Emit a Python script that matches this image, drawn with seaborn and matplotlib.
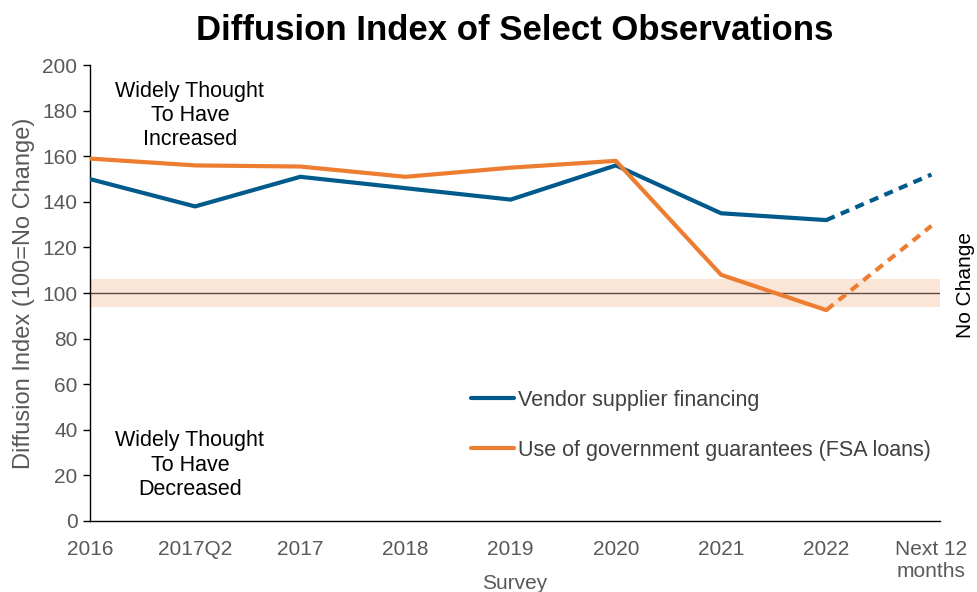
import numpy as np
import pandas as pd
import matplotlib
matplotlib.use("Agg")
import matplotlib.pyplot as plt
import seaborn as sns

# ── Data ──────────────────────────────────────────────────────────────────────
SURVEYS = ["2016", "2017Q2", "2017", "2018", "2019", "2020", "2021", "2022", "Next 12\nmonths"]
VENDOR = [150, 138, 151, 146, 141, 156, 135, 132, 152]
FSA = [159, 156, 155.5, 151, 155, 158, 108, 92.5, 129.5]
SERIES = ["Vendor supplier financing", "Use of government guarantees (FSA loans)"]
BAND = (94, 106)
Y_TICKS = [0, 20, 40, 60, 80, 100, 120, 140, 160, 180, 200]

# ── Style ─────────────────────────────────────────────────────────────────────
sns.set_theme(style="white")
plt.rcParams["font.family"] = ["Liberation Sans", "DejaVu Sans"]
BLUE = "#005A8C"
ORANGE = "#ED7D31"
GREY = "#595959"
PALETTE = {SERIES[0]: BLUE, SERIES[1]: ORANGE}

pos = np.arange(len(SURVEYS))
df = pd.DataFrame({
    "pos": np.concatenate([pos, pos]),
    "value": VENDOR + FSA,
    "series": [SERIES[0]] * len(pos) + [SERIES[1]] * len(pos),
})
actual = df[df["pos"] <= 7]
forecast = df[df["pos"] >= 7]

fig = plt.figure(figsize=(9.77, 5.92), dpi=100)
ax = fig.add_axes([0.092, 0.12, 0.87, 0.77])

ax.axhspan(*BAND, color="#FBE5D6", lw=0, zorder=0)
ax.axhline(100, color="#5a4a42", lw=1, zorder=1)

sns.lineplot(data=actual, x="pos", y="value", hue="series", palette=PALETTE,
             lw=3, ax=ax, legend=True, zorder=3)
sns.lineplot(data=forecast, x="pos", y="value", hue="series", palette=PALETTE,
             lw=3, ax=ax, legend=False, zorder=3)
for line in ax.lines[-2:]:
    line.set_linestyle((0, (2.2, 1.6)))

ax.set_xlim(0, 8.08)
ax.set_ylim(0, 200)
ax.set_yticks(Y_TICKS)
ax.set_xticks(pos)
ax.set_xticklabels(SURVEYS, va="top", linespacing=1.15)
ax.tick_params(axis="y", which="both", left=True, length=5, width=1, color="black",
               labelsize=15, labelcolor=GREY, pad=4)
ax.tick_params(axis="x", bottom=False, labelsize=15, labelcolor=GREY, pad=8)
for s in ["top", "right"]:
    ax.spines[s].set_visible(False)
for s in ["left", "bottom"]:
    ax.spines[s].set_color("black")
    ax.spines[s].set_linewidth(1)

ax.set_xlabel("Survey", fontsize=15, color=GREY, labelpad=-5)
ax.set_ylabel("Diffusion Index (100=No Change)", fontsize=17, color=GREY, labelpad=5)
ax.set_title("Diffusion Index of Select Observations", fontsize=25, fontweight="bold",
             color="black", pad=18)

ax.text(0.95, 178, "Widely Thought\nTo Have\nIncreased", ha="center", va="center",
        fontsize=15.5, color="black", linespacing=1.2)
ax.text(0.95, 24.5, "Widely Thought\nTo Have\nDecreased", ha="center", va="center",
        fontsize=15.5, color="black", linespacing=1.2)
fig.text(0.988, 0.518, "No Change", rotation=90, ha="center", va="center",
         fontsize=15, color="black")

leg = ax.legend(loc="upper left", bbox_to_anchor=(0.425, 0.33), frameon=False,
                handlelength=2.0, handletextpad=0.2, labelspacing=1.35, fontsize=15.5)
for t in leg.get_texts():
    t.set_color("#404040")
for h in leg.legend_handles:
    h.set_linewidth(3)

fig.savefig("out.png", dpi=100)
